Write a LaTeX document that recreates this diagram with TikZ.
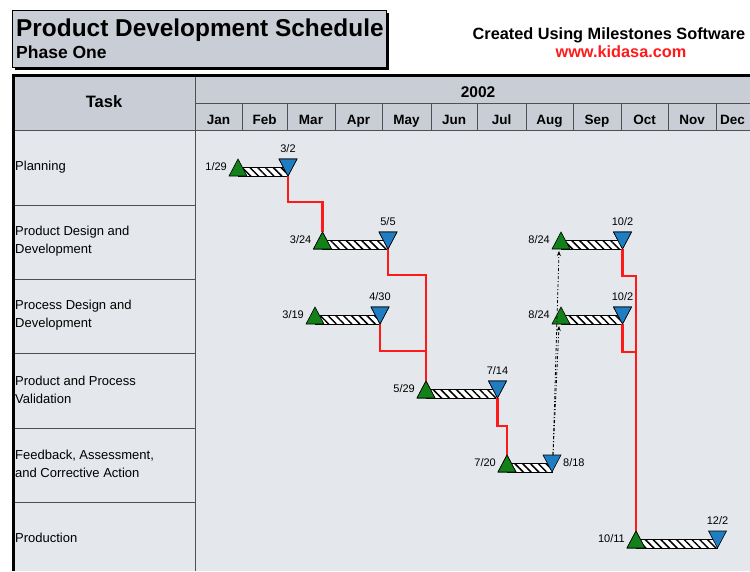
\documentclass[tikz,border=0pt]{standalone}
\usepackage{fontspec}
\setmainfont{Liberation Sans}
\usetikzlibrary{patterns.meta,arrows.meta,calc}
\definecolor{hdr}{HTML}{C9CED6}
\definecolor{bg}{HTML}{E4E7EB}
\definecolor{mgreen}{HTML}{13801A}
\definecolor{mblue}{HTML}{1F7EC2}
\definecolor{crit}{HTML}{FF1A1A}
\definecolor{gridc}{HTML}{505050}
\tikzset{
  bar/.style={draw=black, line width=0.8pt, preaction={fill=white},
    pattern={Lines[angle=-45,distance=5.5pt,line width=1.5pt]}, pattern color=black},
  gtri/.style={fill=mgreen, draw=black, line width=0.6pt},
  btri/.style={fill=mblue, draw=black, line width=0.6pt},
  critline/.style={draw=crit, line width=2.4pt},
  dep/.style={draw=black, line width=0.8pt, dash pattern=on 3pt off 2pt on 1pt off 2pt,
    -{Stealth[length=5pt,width=4pt]}},
  datel/.style={font=\fontsize{11}{13}\selectfont, inner sep=0pt},
  tasklbl/.style={font=\fontsize{13}{18}\selectfont, align=left, anchor=west, inner sep=0pt},
  month/.style={font=\fontsize{13.5}{15}\bfseries\selectfont, inner sep=0pt, anchor=base},
  gridline/.style={draw=gridc, line width=1pt},
}
\newcommand\milestone[4]{%
  \draw[bar] (#2,#4-9) rectangle (#3,#4);
  \draw[gtri] (#2-9,#4) -- (#2,#4-17) -- (#2+9,#4) -- cycle;
  \draw[btri] (#3-9,#4-17) -- (#3+9,#4-17) -- (#3,#4) -- cycle;
  \coordinate (#1s) at (#2,#4-17);
  \coordinate (#1sb) at (#2,#4);
  \coordinate (#1e) at (#3,#4);
  \coordinate (#1et) at (#3,#4-17);
  \coordinate (#1sl) at (#2-11,#4-6);
  \coordinate (#1ea) at (#3,#4-24);
  \coordinate (#1er) at (#3+11,#4-6);
}
\begin{document}
\begin{tikzpicture}[x=1pt,y=-1pt]
\useasboundingbox (0,0) rectangle (750,571);
\fill[white] (0,0) rectangle (750,571);
% title box
\fill[black] (15,13) rectangle (389,70);
\draw[fill=hdr, line width=1pt] (12,10) rectangle (386,67);
\node[anchor=base west, inner sep=0pt, font=\fontsize{24.4}{26}\bfseries\selectfont] (title) at (16,36) {Product Development Schedule};
\node[anchor=base west, inner sep=0pt, font=\fontsize{17.5}{19}\bfseries\selectfont] (phase) at (16,58) {Phase One};
\node[anchor=base, inner sep=0pt, font=\fontsize{16.3}{18}\bfseries\selectfont] (created) at (609,39) {Created Using Milestones Software};
\node[anchor=base, inner sep=0pt, text=crit, font=\fontsize{16.3}{18}\bfseries\selectfont] (web) at (621,57) {www.kidasa.com};
% table backgrounds
\fill[hdr] (13,76) rectangle (750,130);
\fill[bg] (13,130) rectangle (750,571);
% header lines
\draw[gridline] (195,103) -- (750,103);
\foreach \b in {242,287,335,382,431,477,526,573,621,668,716}
  \draw[gridline] (\b,103) -- (\b,130);
\draw[gridline] (13,130) -- (750,130);
\draw[gridline] (195,76) -- (195,571);
\foreach \r in {205,279,353,428,502}
  \draw[gridline] (13,\r) -- (195,\r);
\draw[black, line width=2.5pt] (13.5,571) -- (13.5,75.5) -- (750,75.5);
% header text
\node[anchor=base, inner sep=0pt, font=\fontsize{16.5}{18}\bfseries\selectfont] (task) at (104,107) {Task};
\node[anchor=base, inner sep=0pt, font=\fontsize{15.5}{18}\bfseries\selectfont] (year) at (478,97) {2002};
\node[month] (m1) at (218.5,124) {Jan};
\node[month] (m2) at (264.5,124) {Feb};
\node[month] (m3) at (311,124) {Mar};
\node[month] (m4) at (358.5,124) {Apr};
\node[month] (m5) at (406.5,124) {May};
\node[month] (m6) at (454,124) {Jun};
\node[month] (m7) at (501.5,124) {Jul};
\node[month] (m8) at (549.5,124) {Aug};
\node[month] (m9) at (597,124) {Sep};
\node[month] (m10) at (644.5,124) {Oct};
\node[month] (m11) at (692,124) {Nov};
\node[month, anchor=base west] (m12) at (720,124) {Dec};
% task labels
\node[tasklbl] (t1) at (15,167.5) {Planning};
\node[tasklbl] (t2) at (15,241) {Product Design and\\Development};
\node[tasklbl] (t3) at (15,315) {Process Design and\\Development};
\node[tasklbl] (t4) at (15,389.5) {Product and Process\\Validation};
\node[tasklbl] (t5) at (15,463.5) {Feedback, Assessment,\\and Corrective Action};
\node[tasklbl] (t6) at (15,538) {Production};
% milestones
\coordinate (j1) at (426,351);
\coordinate (j2) at (636,352);
\milestone{pl}{238}{288}{176}
\milestone{pda}{322.5}{388}{249}
\milestone{pdb}{561}{622.5}{249}
\milestone{pra}{315}{380}{324}
\milestone{prb}{561}{622.5}{324}
\milestone{va}{426}{497.5}{398}
\milestone{fb}{507}{552}{472}
\milestone{pn}{636}{717.5}{548}
% critical path connectors
\draw[critline] (ple) -- ++(0,26) -| (pdas);
\draw[critline] (pdae) -- ++(0,26) -| (vas);
\draw[critline] (prae) |- (j1);
\draw[critline] (vae) -- ++(0,28) -| (fbs);
\draw[critline] (pdbe) -- ++(0,27) -| (pns);
\draw[critline] (prbe) |- (j2);
% redraw triangles on top of connectors
\draw[gtri] ($(pdas)+(-9,17)$) -- (pdas) -- ($(pdas)+(9,17)$) -- cycle;
\draw[gtri] ($(vas)+(-9,17)$) -- (vas) -- ($(vas)+(9,17)$) -- cycle;
\draw[gtri] ($(fbs)+(-9,17)$) -- (fbs) -- ($(fbs)+(9,17)$) -- cycle;
\draw[gtri] ($(pns)+(-9,17)$) -- (pns) -- ($(pns)+(9,17)$) -- cycle;
\draw[btri] ($(ple)+(-9,-17)$) -- ($(ple)+(9,-17)$) -- (ple) -- cycle;
\draw[btri] ($(pdae)+(-9,-17)$) -- ($(pdae)+(9,-17)$) -- (pdae) -- cycle;
\draw[btri] ($(prae)+(-9,-17)$) -- ($(prae)+(9,-17)$) -- (prae) -- cycle;
\draw[btri] ($(vae)+(-9,-17)$) -- ($(vae)+(9,-17)$) -- (vae) -- cycle;
\draw[btri] ($(pdbe)+(-9,-17)$) -- ($(pdbe)+(9,-17)$) -- (pdbe) -- cycle;
\draw[btri] ($(prbe)+(-9,-17)$) -- ($(prbe)+(9,-17)$) -- (prbe) -- cycle;
% dependency arrows
\draw[dep] ($(fbet)+(1,0)$) -- ($(pdbsb)+(-2,2)$);
\draw[dep] ($(fbet)+(1,0)$) -- ($(prbsb)+(-2,2)$);
% date labels
\node[datel, anchor=base east] (d1) at (plsl) {1/29};
\node[datel, anchor=base] (d2) at (plea) {3/2};
\node[datel, anchor=base east] (d3) at (pdasl) {3/24};
\node[datel, anchor=base] (d4) at (pdaea) {5/5};
\node[datel, anchor=base east] (d5) at (pdbsl) {8/24};
\node[datel, anchor=base] (d6) at (pdbea) {10/2};
\node[datel, anchor=base east] (d7) at (prasl) {3/19};
\node[datel, anchor=base] (d8) at (praea) {4/30};
\node[datel, anchor=base east] (d9) at (prbsl) {8/24};
\node[datel, anchor=base] (d10) at (prbea) {10/2};
\node[datel, anchor=base east] (d11) at (vasl) {5/29};
\node[datel, anchor=base] (d12) at (vaea) {7/14};
\node[datel, anchor=base east] (d13) at (fbsl) {7/20};
\node[datel, anchor=base west] (d14) at (fber) {8/18};
\node[datel, anchor=base east] (d15) at (pnsl) {10/11};
\node[datel, anchor=base] (d16) at (pnea) {12/2};
\end{tikzpicture}
\end{document}
